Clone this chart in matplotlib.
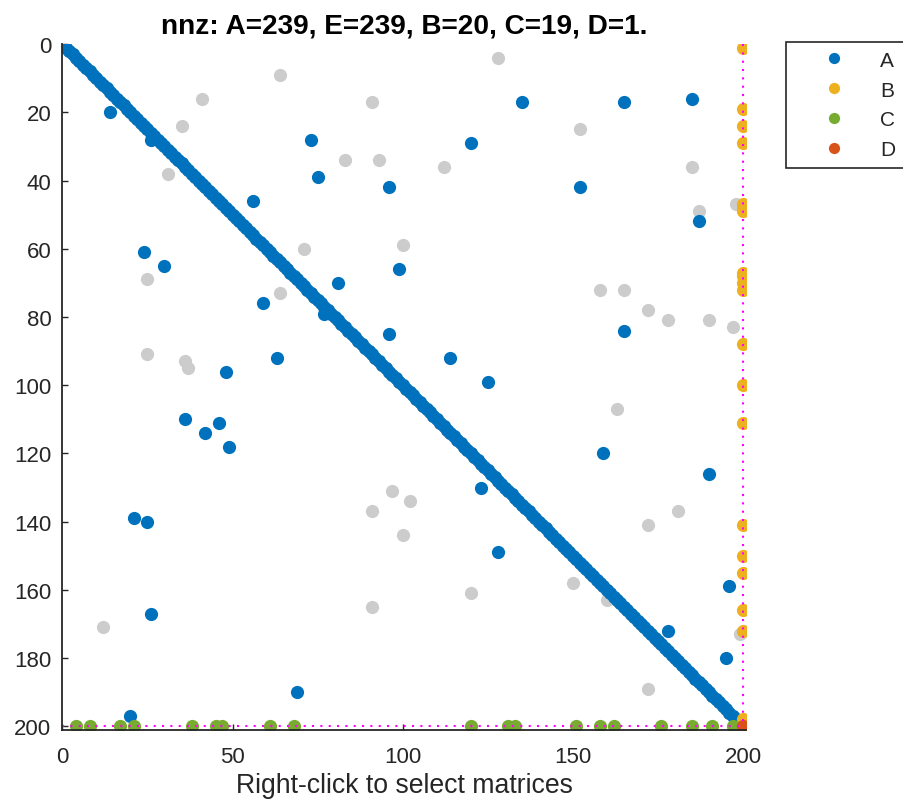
import numpy as np
import matplotlib
matplotlib.use('Agg')
import matplotlib.pyplot as plt

plt.rcParams['font.family'] = ['Liberation Sans', 'DejaVu Sans']

# ---- data (column = x, row = y) ----
n = 200
diag_len = 199  # A and E both hold the main diagonal 1..199

A_cols = [14, 26, 73, 75, 96, 56, 24, 30, 99, 81, 135, 165, 185, 120, 152, 187, 59, 77, 96, 63,
          114, 48, 36, 46, 42, 49, 21, 25, 165, 125, 159, 190, 123, 128, 26, 20, 69, 196, 178, 195]
A_rows = [20, 28, 28, 39, 42, 46, 61, 65, 66, 70, 17, 17, 16, 29, 42, 52, 76, 79, 85, 92,
          92, 96, 110, 111, 114, 118, 139, 140, 84, 99, 120, 126, 130, 149, 167, 197, 190, 159, 172, 180]

E_cols = [64, 41, 91, 35, 31, 83, 93, 112, 71, 100, 25, 128, 152, 185, 187, 198, 158, 165, 172, 178,
          190, 197, 163, 181, 172, 64, 25, 36, 37, 97, 102, 91, 100, 12, 91, 120, 150, 160, 172, 199]
E_rows = [9, 16, 17, 24, 38, 34, 34, 36, 60, 59, 69, 4, 25, 36, 49, 47, 72, 72, 78, 81,
          81, 83, 107, 137, 141, 73, 91, 93, 95, 131, 134, 137, 144, 171, 165, 161, 158, 163, 189, 173]

B_col = 200
B_rows = [1, 19, 24, 29, 47, 48, 49, 67, 68, 70, 72, 88, 100, 111, 141, 150, 155, 166, 172, 198]

C_row = 200
C_cols = [4, 8, 17, 21, 38, 45, 47, 61, 68, 120, 131, 133, 151, 158, 162, 176, 185, 191, 197]

D_cols = [200]
D_rows = [200]

diag = np.arange(1, diag_len + 1)
Ax = np.concatenate([diag, A_cols]); Ay = np.concatenate([diag, A_rows])
Ex = np.concatenate([diag, E_cols]); Ey = np.concatenate([diag, E_rows])
Bx = [B_col] * len(B_rows); By = B_rows
Cx = C_cols; Cy = [C_row] * len(C_cols)

col_A = '#0072BD'
col_B = '#EDB120'
col_C = '#77AC30'
col_D = '#D95319'
col_E = '#CCCCCC'
axcol = '#262626'

fig = plt.figure(figsize=(9.04, 8.04), dpi=100)
ax = fig.add_axes([62.4 / 904, 1 - 730.7 / 804, 684 / 904, 685.6 / 804])

ms = 9.5
ax.plot(Ex, Ey, 'o', ms=ms, mew=0, color=col_E, label='_nolegend_')
hA, = ax.plot(Ax, Ay, 'o', ms=ms, mew=0, color=col_A, label='A')
hB, = ax.plot(Bx, By, 'o', ms=ms, mew=0, color=col_B, label='B')
hC, = ax.plot(Cx, Cy, 'o', ms=ms, mew=0, color=col_C, label='C')
hD, = ax.plot(D_cols, D_rows, 'o', ms=ms, mew=0, color=col_D, label='D')

ax.plot([n, n], [0, n], color='#FF00FF', lw=1.5, ls=(0, (1, 3)))
ax.plot([0, n], [n, n], color='#FF00FF', lw=1.5, ls=(0, (1, 3)))

ax.set_xlim(0, 201)
ax.set_ylim(201, 0)
ax.set_xticks([0, 50, 100, 150, 200])
ax.set_yticks(np.arange(0, 201, 20))

for s in ['top', 'right']:
    ax.spines[s].set_visible(False)
for s in ['left', 'bottom']:
    ax.spines[s].set_color(axcol)
    ax.spines[s].set_linewidth(1.3)

ax.tick_params(axis='both', direction='in', length=4, width=1, colors=axcol, labelsize=16)
ax.tick_params(axis='x', pad=12)
ax.tick_params(axis='y', pad=8)

ax.set_xlabel('Right-click to select matrices', fontsize=19.2, color=axcol, labelpad=3)
title = f'nnz: A={len(Ax)}, E={len(Ex)}, B={len(By)}, C={len(Cx)}, D={len(D_cols)}.'
ax.set_title(title, fontsize=20.2, fontweight='bold', color='black', pad=8)

leg = ax.legend(handles=[hA, hB, hC, hD], loc='upper left',
                bbox_to_anchor=(786 / 904, 1 - 43 / 804), bbox_transform=fig.transFigure,
                frameon=True, fancybox=False, edgecolor=axcol, borderaxespad=0,
                fontsize=15, handlelength=3.8, handletextpad=0.3, labelspacing=0.52,
                borderpad=0.42, numpoints=1, framealpha=1, markerscale=0.85)
leg.get_frame().set_linewidth(1.2)
for t in leg.get_texts():
    t.set_color(axcol)

fig.savefig('out.png', dpi=100)
